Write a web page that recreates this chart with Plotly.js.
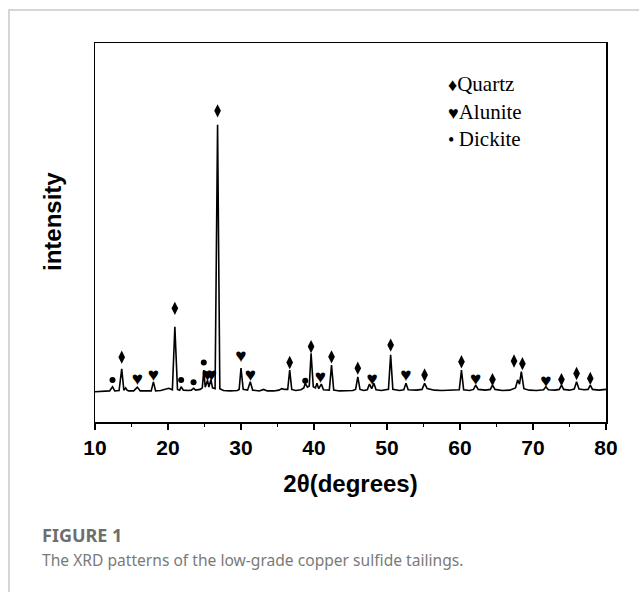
<!DOCTYPE html>
<html>
<head>
<meta charset="utf-8">
<script src="https://cdn.plot.ly/plotly-3.0.1.min.js"></script>
<style>
  html, body { margin: 0; padding: 0; background: #fff; }
  #wrap { position: relative; width: 639px; height: 592px; overflow: hidden; }
  #frame { position: absolute; left: 8px; top: 9px; width: 640px; height: 600px;
           border-left: 2px solid #d6d6d6; border-top: 2px solid #d6d6d6; }
  #chart { position: absolute; left: 0; top: 0; width: 639px; height: 592px; }
</style>
</head>
<body>
<div id="wrap">
  <div id="frame"></div>
  <div id="chart"></div>
</div>
<script>
// XRD pattern (2θ in degrees, intensity in arbitrary units)
const twoTheta = [10, 10.8, 11.5, 12.0, 12.4, 12.7, 13.3, 13.66, 13.95, 14.2, 14.4, 14.6, 15.3, 15.8, 16.2,
  17.0, 17.7, 18.0, 18.3, 19.0, 19.8, 20.1, 20.6, 20.94, 21.3, 21.6, 21.8, 22.1, 22.8, 23.2, 23.5, 23.8,
  24.4, 24.7, 24.9, 25.1, 25.42, 25.6, 25.88, 26.1, 26.45, 26.79, 27.1, 27.6, 28.5, 29.5, 29.75, 30.0,
  30.3, 30.9, 31.27, 31.6, 32.5, 33.1, 33.6, 34.5, 35.2, 35.6, 36.0, 36.4, 36.67, 36.95, 37.5, 38.2,
  38.6, 38.8, 39.1, 39.35, 39.6, 39.9, 40.2, 40.4, 40.65, 41.0, 41.3, 42.1, 42.4, 42.7, 43.5, 44.5,
  45.3, 45.7, 46.0, 46.3, 46.8, 47.3, 47.6, 47.9, 48.2, 48.5, 49.2, 50.2, 50.5, 50.8, 51.7, 52.3,
  52.6, 52.9, 54.0, 54.8, 55.15, 55.5, 56.5, 57.5, 58.5, 59.9, 60.2, 60.5, 61.3, 61.85, 62.15, 62.5,
  63.5, 64.15, 64.45, 64.8, 65.8, 66.8, 67.6, 67.9, 68.15, 68.4, 68.75, 69.5, 70.5, 71.45, 71.76,
  72.1, 73.0, 73.6, 73.9, 74.2, 75.0, 75.65, 75.97, 76.3, 77.0, 77.55, 77.85, 78.15, 79.0, 80];
const intensity = [80, 81, 80, 82, 93, 82, 83, 140, 84, 90, 84, 82, 82, 92, 82,
  83, 82, 106, 82, 83, 86, 89, 85, 251, 86, 84, 93, 84, 83, 84, 89, 84,
  86, 90, 137, 92, 110, 92, 112, 90, 88, 784, 88, 83, 82, 83, 86, 142,
  86, 84, 106, 84, 82, 86, 82, 82, 84, 88, 86, 86, 137, 86, 83, 85,
  90, 102, 92, 95, 181, 93, 90, 102, 88, 100, 85, 84, 150, 84, 82, 82,
  83, 86, 119, 86, 83, 85, 100, 88, 102, 85, 83, 86, 177, 86, 83, 85,
  102, 85, 84, 86, 102, 88, 84, 83, 83, 85, 137, 85, 83, 86, 97, 86,
  84, 86, 97, 86, 83, 84, 90, 111, 100, 133, 88, 84, 83, 85, 93,
  85, 84, 86, 97, 86, 84, 87, 106, 87, 85, 86, 97, 86, 84, 86];

// Phase markers
const quartzX = [13.66, 20.94, 26.79, 36.67, 39.6, 42.4, 46.0, 50.5, 55.15, 60.2, 64.45, 67.4, 68.55, 73.9, 75.97, 77.85];
const quartzY = [171, 300, 821, 157, 199, 172, 142, 203, 124, 159, 112, 161, 154, 112, 128, 115];
const aluniteX = [15.8, 18.0, 25.4, 25.95, 30.0, 31.27, 40.88, 47.97, 52.6, 62.15, 71.76];
const aluniteY = [111, 120, 120, 120, 172, 121, 115, 111, 120, 111, 106];
const dickiteX = [12.4, 21.8, 23.5, 24.9, 38.8];
const dickiteY = [111, 111, 105, 157, 109];

const legendSymbols = ['\u2666', '\u2665\uFE0E', '\u2022 '];
const legendNames = ['Quartz', 'Alunite', 'Dickite'];
const xTicks = [10, 20, 30, 40, 50, 60, 70, 80];

const serif = 'Liberation Serif, Times New Roman, serif';
const sans = 'Liberation Sans, Arial, sans-serif';

const traces = [
  { x: twoTheta, y: intensity, mode: 'lines', line: { color: '#000', width: 1.6 }, hoverinfo: 'x+y' },
  { x: quartzX, y: quartzY, mode: 'markers', marker: { symbol: 'diamond-tall', size: 9.5, color: '#000' } },
  { x: aluniteX, y: aluniteY, mode: 'text', text: aluniteX.map(() => '\u2665\uFE0E'),
    textfont: { family: serif, size: 19, color: '#000' } },
  { x: dickiteX, y: dickiteY, mode: 'markers', marker: { symbol: 'circle', size: 6, color: '#000' } }
];

const legendY = [0.891, 0.818, 0.746];
const legendAnn = legendNames.map((n, i) => ({
  xref: 'paper', yref: 'paper', x: 0.687, y: legendY[i], xanchor: 'left', yanchor: 'middle', showarrow: false,
  text: '<span style="font-size:18px">' + legendSymbols[i] + '</span>' + n,
  font: { family: serif, size: 21, color: '#000' }
}));

const layout = {
  width: 639, height: 592,
  margin: { l: 95, r: 33, t: 43, b: 170 },
  paper_bgcolor: 'rgba(0,0,0,0)', plot_bgcolor: '#fff',
  showlegend: false,
  xaxis: {
    range: [10, 80], tickvals: xTicks, ticktext: xTicks.map(String),
    ticks: 'outside', ticklen: 6, tickwidth: 1.5, tickcolor: '#000',
    minor: { dtick: 5, tick0: 10, ticks: 'outside', ticklen: 3, tickwidth: 1.5, tickcolor: '#000' },
    showline: true, linewidth: 1.5, linecolor: '#000', mirror: true,
    showgrid: false, zeroline: false,
    tickfont: { family: sans, size: 21, weight: 'bold', color: '#000' },
    title: { text: '2\u03b8(degrees)', standoff: 17,
      font: { family: sans, size: 24, weight: 'bold', color: '#000' } }
  },
  yaxis: {
    range: [0, 1000], showticklabels: false, ticks: '',
    showline: true, linewidth: 1.5, linecolor: '#000', mirror: true,
    showgrid: false, zeroline: false
  },
  annotations: [
    { xref: 'paper', yref: 'paper', x: -0.082, y: 0.528, xanchor: 'center', yanchor: 'middle', showarrow: false,
      textangle: -90, text: 'intensity', font: { family: sans, size: 24, weight: 'bold', color: '#000' } },
    ...legendAnn,
    { xref: 'paper', yref: 'paper', x: -0.108, y: -0.298, xanchor: 'left', yanchor: 'middle', showarrow: false,
      text: 'FIGURE 1', font: { family: 'Noto Sans, Open Sans, sans-serif', size: 18, weight: 'bold', color: '#6e6e6e' } },
    { xref: 'paper', yref: 'paper', x: -0.108, y: -0.364, xanchor: 'left', yanchor: 'middle', showarrow: false,
      text: 'The XRD patterns of the low-grade copper sulfide tailings.',
      font: { family: 'Noto Sans, Open Sans, sans-serif', size: 15.6, color: '#7a7a7a' } }
  ]
};

Plotly.newPlot('chart', traces, layout, { displayModeBar: false, staticPlot: true });
</script>
</body>
</html>
